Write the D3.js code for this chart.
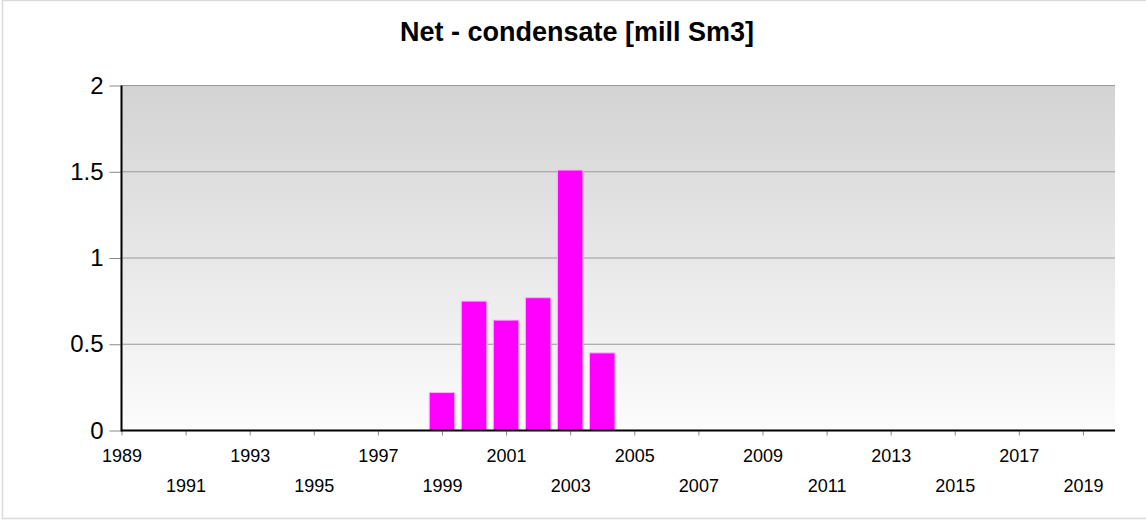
<!DOCTYPE html>
<html>
<head>
<meta charset="utf-8">
<script src="https://cdn.jsdelivr.net/npm/d3@7"></script>
<style>
  body { margin: 0; background: #fff; }
  text { font-family: "Liberation Sans", Arial, sans-serif; fill: #000; }
</style>
</head>
<body>
<div id="chart"></div>
<script>
// chart data
const years = [1999, 2000, 2001, 2002, 2003, 2004];
const condensate = [0.22, 0.75, 0.64, 0.77, 1.51, 0.45];
const yTicks = [0, 0.5, 1, 1.5, 2];
const yearTicks = d3.range(1989, 2020, 2);
const chartTitle = "Net - condensate [mill Sm3]";

const width = 1146;
const height = 522;
const plotLeft = 121.5, plotRight = 1115, plotTop = 85.5, plotBottom = 430.5;

const svg = d3.select("#chart").append("svg")
    .attr("width", width)
    .attr("height", height);

// outer frame
svg.append("rect")
    .attr("x", 2.5).attr("y", 0.5)
    .attr("width", 1160).attr("height", 518)
    .attr("fill", "#fff")
    .attr("stroke", "#dadada")
    .attr("stroke-width", 1.5);

const xScale = d3.scaleLinear()
    .domain([1989, 2020])
    .range([plotLeft, plotRight]);

const yScale = d3.scaleLinear()
    .domain([0, 2])
    .range([plotBottom, plotTop]);

// plot background gradient
const grad = svg.append("defs").append("linearGradient")
    .attr("id", "bg")
    .attr("x1", 0).attr("y1", 0).attr("x2", 0).attr("y2", 1);
grad.append("stop").attr("offset", "0%").attr("stop-color", "#d3d3d3");
grad.append("stop").attr("offset", "100%").attr("stop-color", "#fcfcfc");

svg.append("rect")
    .attr("x", plotLeft).attr("y", plotTop)
    .attr("width", plotRight - plotLeft).attr("height", plotBottom - plotTop)
    .attr("fill", "url(#bg)");

// gridlines
svg.selectAll(".grid")
    .data(yTicks.filter(d => d > 0))
    .enter()
    .append("line")
    .attr("class", "grid")
    .attr("x1", plotLeft).attr("x2", plotRight)
    .attr("y1", d => yScale(d)).attr("y2", d => yScale(d))
    .attr("stroke", "#9a9a9a")
    .attr("stroke-width", 1);

// bars
const barW = 25.5;
svg.selectAll(".bar")
    .data(years)
    .enter()
    .append("rect")
    .attr("class", "bar")
    .attr("x", d => xScale(d) - barW / 2)
    .attr("y", (d, i) => yScale(condensate[i]))
    .attr("width", barW)
    .attr("height", (d, i) => yScale(0) - yScale(condensate[i]))
    .attr("fill", "#ff00ff")
    .attr("stroke", "#ffb3ff")
    .attr("stroke-width", 1);

// y axis
const yAxis = d3.axisLeft(yScale)
    .tickValues(yTicks)
    .tickSize(12)
    .tickPadding(6)
    .tickFormat(d3.format("~g"));
const gy = svg.append("g")
    .attr("transform", `translate(${plotLeft},0)`)
    .call(yAxis);
gy.select(".domain").remove();
gy.selectAll(".tick line").attr("stroke", "#888");
gy.selectAll(".tick text")
    .attr("font-size", 24)
    .attr("font-family", "Liberation Sans, Arial, sans-serif");

// x axis
const xAxis = d3.axisBottom(xScale)
    .tickValues(yearTicks)
    .tickSize(5)
    .tickFormat(d3.format("d"));
const gx = svg.append("g")
    .attr("transform", `translate(0,${plotBottom})`)
    .call(xAxis);
gx.select(".domain").remove();
gx.selectAll(".tick line").attr("stroke", "#888");
gx.selectAll(".tick text")
    .attr("font-size", 18)
    .attr("font-family", "Liberation Sans, Arial, sans-serif")
    .attr("dy", null)
    .attr("y", (d, i) => i % 2 === 0 ? 31 : 61);

// axis lines
svg.append("line")
    .attr("x1", plotLeft).attr("x2", plotLeft)
    .attr("y1", plotTop).attr("y2", plotBottom + 1)
    .attr("stroke", "#000").attr("stroke-width", 2);
svg.append("line")
    .attr("x1", plotLeft).attr("x2", plotRight)
    .attr("y1", plotBottom).attr("y2", plotBottom)
    .attr("stroke", "#000").attr("stroke-width", 2);

// title
svg.append("text")
    .attr("x", 577)
    .attr("y", 41)
    .attr("text-anchor", "middle")
    .attr("font-size", 27)
    .attr("font-weight", "bold")
    .text(chartTitle);
</script>
</body>
</html>
